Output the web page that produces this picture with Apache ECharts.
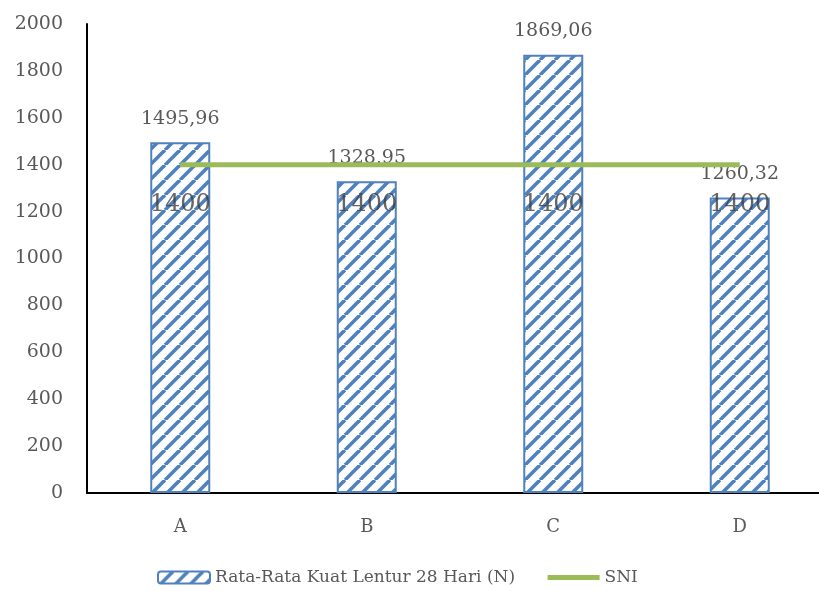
<!DOCTYPE html>
<html><head><meta charset="utf-8">
<script src="https://cdn.jsdelivr.net/npm/echarts@6/dist/echarts.min.js"></script>
<style>html,body{margin:0;padding:0;background:#fff}#c{width:819px;height:591px}</style>
</head><body><div id="c"></div>
<script>
const categories = ['A', 'B', 'C', 'D'];
const kuatLentur = [1495.96, 1328.95, 1869.06, 1260.32];
const sni = [1400, 1400, 1400, 1400];
const yTicks = [0, 200, 400, 600, 800, 1000, 1200, 1400, 1600, 1800, 2000];
const seriesNames = ['Rata-Rata Kuat Lentur 28 Hari (N)', 'SNI'];

function makeHatch() {
  const s = 15;
  const cv = document.createElement('canvas');
  cv.width = s; cv.height = s;
  const ctx = cv.getContext('2d');
  ctx.fillStyle = '#ffffff';
  ctx.fillRect(0, 0, s, s);
  ctx.strokeStyle = '#4f81bd';
  ctx.lineWidth = 3.6;
  for (const k of [-1, 0, 1]) {
    ctx.beginPath();
    ctx.moveTo(k * s, s);
    ctx.lineTo(k * s + s, 0);
    ctx.stroke();
  }
  return cv;
}
const hatch = makeHatch();
const fmt = v => v.toFixed(2).replace('.', ',');
const serif = 'DejaVu Serif';

const chart = echarts.init(document.getElementById('c'));
chart.setOption({
  animation: false,
  grid: { left: 87, width: 746, top: 24, bottom: 98, outerBoundsMode: 'none', containLabel: false },
  xAxis: {
    type: 'category', data: categories,
    axisLine: { lineStyle: { color: '#000', width: 2 } },
    axisTick: { show: false },
    axisLabel: { fontFamily: serif, fontSize: 18, color: '#595959', margin: 25 }
  },
  yAxis: {
    type: 'value', min: yTicks[0], max: yTicks[yTicks.length - 1], interval: 200,
    splitLine: { show: false },
    axisLine: { show: true, lineStyle: { color: '#000', width: 2 } },
    axisTick: { show: false },
    axisLabel: { fontFamily: serif, fontSize: 19, color: '#595959', margin: 24, formatter: v => String(v) }
  },
  legend: {
    bottom: 0, left: 152, itemWidth: 52, itemHeight: 12, itemGap: 30,
    textStyle: { fontFamily: serif, fontSize: 17, color: '#595959' },
    data: [
      { name: seriesNames[0] },
      { name: seriesNames[1], lineStyle: { width: 5 }, itemStyle: { opacity: 0 } }
    ]
  },
  series: [
    {
      name: seriesNames[0], type: 'bar', data: kuatLentur, barWidth: 60,
      itemStyle: { color: { image: hatch, repeat: 'repeat' }, borderColor: '#4f81bd', borderWidth: 2 },
      label: { show: true, position: 'top', distance: 14, fontFamily: serif, fontSize: 19, color: '#595959',
        formatter: p => fmt(p.value) }
    },
    {
      name: seriesNames[1], type: 'line', data: sni, symbol: 'none', z: 3,
      lineStyle: { color: '#9bbb59', width: 5 }, itemStyle: { color: '#9bbb59' }
    },
    {
      type: 'scatter', data: sni, symbolSize: 0, z: 4, silent: true,
      itemStyle: { color: 'transparent' },
      label: { show: true, position: 'bottom', distance: 28, fontFamily: serif, fontSize: 24, color: '#404040' }
    }
  ]
});
</script></body></html>
